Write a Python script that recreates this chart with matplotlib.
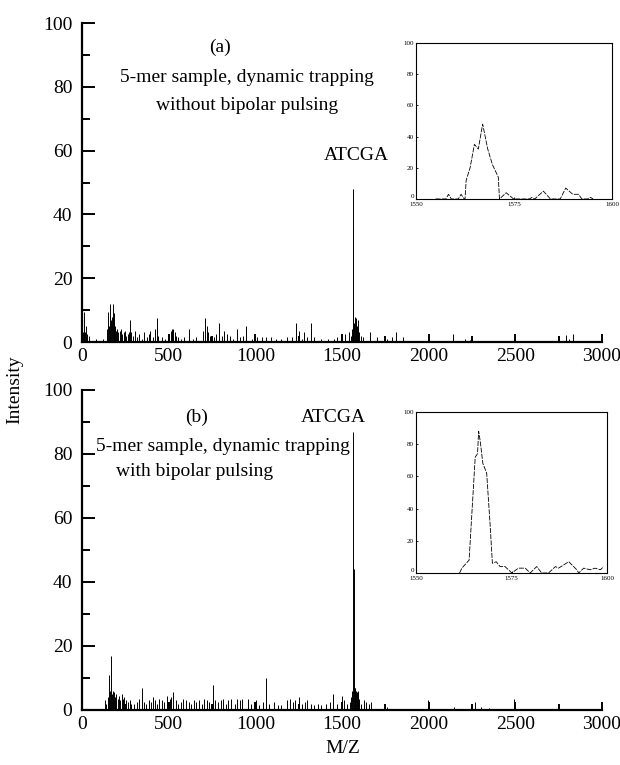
import matplotlib
matplotlib.use("Agg")
import matplotlib.pyplot as plt
from matplotlib.ticker import MultipleLocator

plt.rcParams['font.family'] = ['Liberation Serif', 'DejaVu Serif']

# stick spectrum, panel (a): without bipolar pulsing
mz_a = [5, 10, 14, 20, 25, 30, 40, 80, 120,
        145, 152, 158, 162, 168, 172, 177, 182, 185, 190, 196, 203, 210, 218,
        225, 232, 240, 248, 255, 263, 270, 277, 285, 295, 305, 320, 330, 345,
        360, 372, 385, 395, 410, 420, 431, 440, 460, 480, 500, 512, 520, 527,
        535, 545, 555, 570, 590, 618, 640, 660, 700, 712, 720, 728, 740, 760,
        775, 790, 805, 820, 835, 855, 870, 895, 910, 930, 946, 980, 1010, 1040,
        1060, 1090, 1120, 1150, 1180, 1210, 1237, 1250, 1270, 1283, 1300, 1321,
        1340, 1380, 1420, 1455, 1470, 1500, 1520, 1540, 1550, 1557, 1562, 1566,
        1570, 1574, 1578, 1582, 1586, 1590, 1594, 1600, 1608, 1620, 1662, 1700,
        1760, 1790, 1810, 1850, 2142, 2210, 2240, 2790, 2810, 2834]
int_a = [3, 9.5, 4, 3, 5, 2.5, 2, 1, 0.8,
         4, 9.5, 5, 12, 7, 8, 12, 6, 9, 5, 3.5, 4, 3, 3.5,
         4, 2.5, 3, 3.5, 2, 2.5, 3, 7, 3, 2, 3.5, 1.5, 2.5, 1,
         3, 1.5, 2.5, 3.5, 1.5, 4, 7.5, 2, 1.5, 1, 2, 3.5, 4, 4,
         3, 2, 1.5, 1, 1.5, 4, 1, 1.5, 3.5, 7.5, 5, 3, 2, 1.5,
         2.5, 6, 2, 3.5, 2.5, 2, 1, 4, 1.5, 2, 5, 1, 1.5, 1.5,
         1.5, 1.5, 1, 1, 1.5, 1.5, 6, 3.5, 1, 3.2, 1.5, 6,
         1.5, 0.8, 0.8, 1, 1.5, 2.5, 2.5, 3, 2, 4, 48, 36,
         6, 8, 7.5, 6, 5, 7, 4, 3, 2, 1.5, 3, 1.5,
         1, 1.5, 3, 1.5, 2.5, 1, 0.5, 2.2, 1, 2.5]

# stick spectrum, panel (b): with bipolar pulsing
mz_b = [130, 140, 150, 156, 162, 170, 175, 180, 186, 192, 198, 205, 212, 220,
        228, 236, 245, 255, 265, 275, 285, 300, 315, 330, 344, 355, 370, 385,
        398, 410, 420, 432, 445, 460, 475, 490, 505, 515, 526, 540, 555, 570,
        585, 600, 615, 630, 645, 660, 675, 690, 705, 720, 735, 754, 770, 785,
        800, 815, 830, 845, 860, 880, 895, 910, 925, 960, 975, 1002, 1020, 1045,
        1062, 1080, 1110, 1130, 1150, 1180, 1200, 1215, 1230, 1250, 1270, 1285,
        1300, 1320, 1340, 1360, 1380, 1410, 1430, 1450, 1470, 1498, 1510, 1530,
        1545, 1552, 1560, 1564, 1568, 1572, 1576, 1580, 1585, 1590, 1595, 1600,
        1610, 1625, 1640, 1655, 1670, 1748, 1760, 1996, 2145, 2270, 2300, 2350,
        2495]
int_b = [3, 2, 4, 11, 6, 17, 5, 6, 5.5, 4, 5, 3.5, 4.5, 3,
         5, 3.5, 4, 3, 2.5, 3, 2, 2, 2.5, 3.5, 7, 2.5, 2, 3,
         2.5, 4, 3, 2, 3.5, 3, 2.5, 4.5, 3.5, 4, 5.7, 3, 2, 2.5,
         3.5, 3, 2.5, 2, 3, 2.5, 3, 2, 3.5, 3, 2.5, 7.8, 3, 2.5,
         3, 3.5, 2, 3, 3.5, 2, 3.5, 3, 3.5, 3.5, 2, 3, 1.5, 2.5,
         10, 2, 2.5, 1.5, 1.5, 3, 3.5, 2.5, 3, 4, 2, 2.5,
         3, 2, 1.5, 2, 1.5, 2, 2.5, 5, 2, 4.5, 3, 2,
         2.5, 4, 6, 87, 44, 7, 7, 6, 5.5, 6, 5, 3.5,
         2, 3, 2.5, 2, 2.5, 2, 1, 3, 1, 2.5, 1, 0.5,
         3.5]

# zoomed profiles of the ATCGA peak (insets)
zoom_mz_a = [1555, 1557.6, 1558.3, 1559.0, 1560.8, 1561.5, 1562.3, 1562.5,
             1562.8, 1563.8, 1564.9, 1565.9, 1567.0, 1568.3, 1569.5, 1571.0,
             1571.3, 1573.0, 1574.9, 1578.9, 1579.6, 1580.3, 1582.5, 1584.3,
             1586.8, 1588.2, 1590.0, 1591.5, 1592.3, 1593.8, 1594.5, 1595.2]
zoom_int_a = [0, 0, 3, 0, 0, 3, 0, 0,
              12, 20, 35, 32, 48, 32, 22, 14,
              0, 4, 0, 0, 1, 0, 5, 0,
              0, 7, 3, 3, 0, 0, 1, 0]

zoom_mz_b = [1561.4, 1562.0, 1563.9, 1565.5, 1566.1, 1566.4, 1566.8, 1567.5,
             1568.5, 1569.4, 1570.0, 1571.0, 1572.0, 1573.3, 1575.1, 1576.8,
             1578.6, 1579.9, 1581.6, 1582.9, 1584.7, 1586.5, 1587.3, 1590.0,
             1592.1, 1592.6, 1593.9, 1595.6, 1596.9, 1598.3, 1599.1]
zoom_int_b = [0, 3, 8, 72, 74, 88, 82, 68,
              62, 30, 6, 7, 4, 4, 0, 3,
              3, 0, 4, 0, 0, 4, 3, 7,
              2, 0, 3, 2, 3, 2, 4]

FS = 14

fig = plt.figure(figsize=(6.2, 7.65), dpi=100)
ax_a = fig.add_axes([0.1323, 0.5529, 0.8387, 0.417])
ax_b = fig.add_axes([0.1323, 0.0719, 0.8387, 0.4183])


def style_main(ax):
    ax.set_xlim(0, 3000)
    ax.set_ylim(0, 100)
    for s in ['top', 'right']:
        ax.spines[s].set_visible(False)
    for s in ['left', 'bottom']:
        ax.spines[s].set_linewidth(1.6)
    ax.xaxis.set_major_locator(MultipleLocator(500))
    ax.xaxis.set_minor_locator(MultipleLocator(250))
    ax.yaxis.set_major_locator(MultipleLocator(20))
    ax.yaxis.set_minor_locator(MultipleLocator(10))
    ax.tick_params(which='both', direction='in', width=1.4, labelsize=FS)
    ax.tick_params(axis='y', which='major', length=9, pad=7)
    ax.tick_params(axis='y', which='minor', length=6)
    ax.tick_params(axis='x', which='major', length=6, pad=4)
    ax.tick_params(axis='x', which='minor', length=4)


def style_inset(ax):
    ax.set_xlim(1550, 1600)
    ax.set_ylim(0, 100)
    ax.set_xticks([1550, 1575, 1600])
    ax.set_yticks([0, 20, 40, 60, 80, 100])
    for s in ax.spines.values():
        s.set_linewidth(0.8)
    ax.tick_params(direction='in', length=1.5, width=0.6, labelsize=5)
    ax.tick_params(axis='x', pad=2)
    ax.tick_params(axis='y', pad=1.5)
    # lift the zero label off the corner so it clears the 1550 label
    ax.get_yticklabels()[0].set_verticalalignment('bottom')


style_main(ax_a)
ax_a.vlines(mz_a, 0, int_a, colors='black', linewidth=0.7)
ax_a.text(796, 92.5, '(a)', ha='center', va='center', fontsize=FS)
ax_a.text(952, 83, '5-mer sample, dynamic trapping', ha='center', va='center',
          fontsize=FS)
ax_a.text(952, 74.3, 'without bipolar pulsing', ha='center', va='center',
          fontsize=FS)
ax_a.text(1581, 58.6, 'ATCGA', ha='center', va='center', fontsize=FS)

style_main(ax_b)
ax_b.vlines(mz_b, 0, int_b, colors='black', linewidth=0.7)
ax_b.text(658, 91.3, '(b)', ha='center', va='center', fontsize=FS)
ax_b.text(1448, 91.3, 'ATCGA', ha='center', va='center', fontsize=FS)
ax_b.text(814, 82.2, '5-mer sample, dynamic trapping', ha='center',
          va='center', fontsize=FS)
ax_b.text(650, 74.4, 'with bipolar pulsing', ha='center', va='center',
          fontsize=FS)

fig.text(0.024, 0.49, 'Intensity', rotation=90, ha='center', va='center',
         fontsize=FS)
fig.text(0.553, 0.022, 'M/Z', ha='center', va='center', fontsize=FS)

ins_a = fig.add_axes([0.671, 0.7399, 0.316, 0.204])
style_inset(ins_a)
ins_a.plot(zoom_mz_a, zoom_int_a, color='black', linewidth=0.6,
           linestyle=(0, (6, 1.5)))

ins_b = fig.add_axes([0.671, 0.251, 0.308, 0.2105])
style_inset(ins_b)
ins_b.plot(zoom_mz_b, zoom_int_b, color='black', linewidth=0.6,
           linestyle=(0, (6, 1.5)))

fig.savefig('out.png', dpi=100)
